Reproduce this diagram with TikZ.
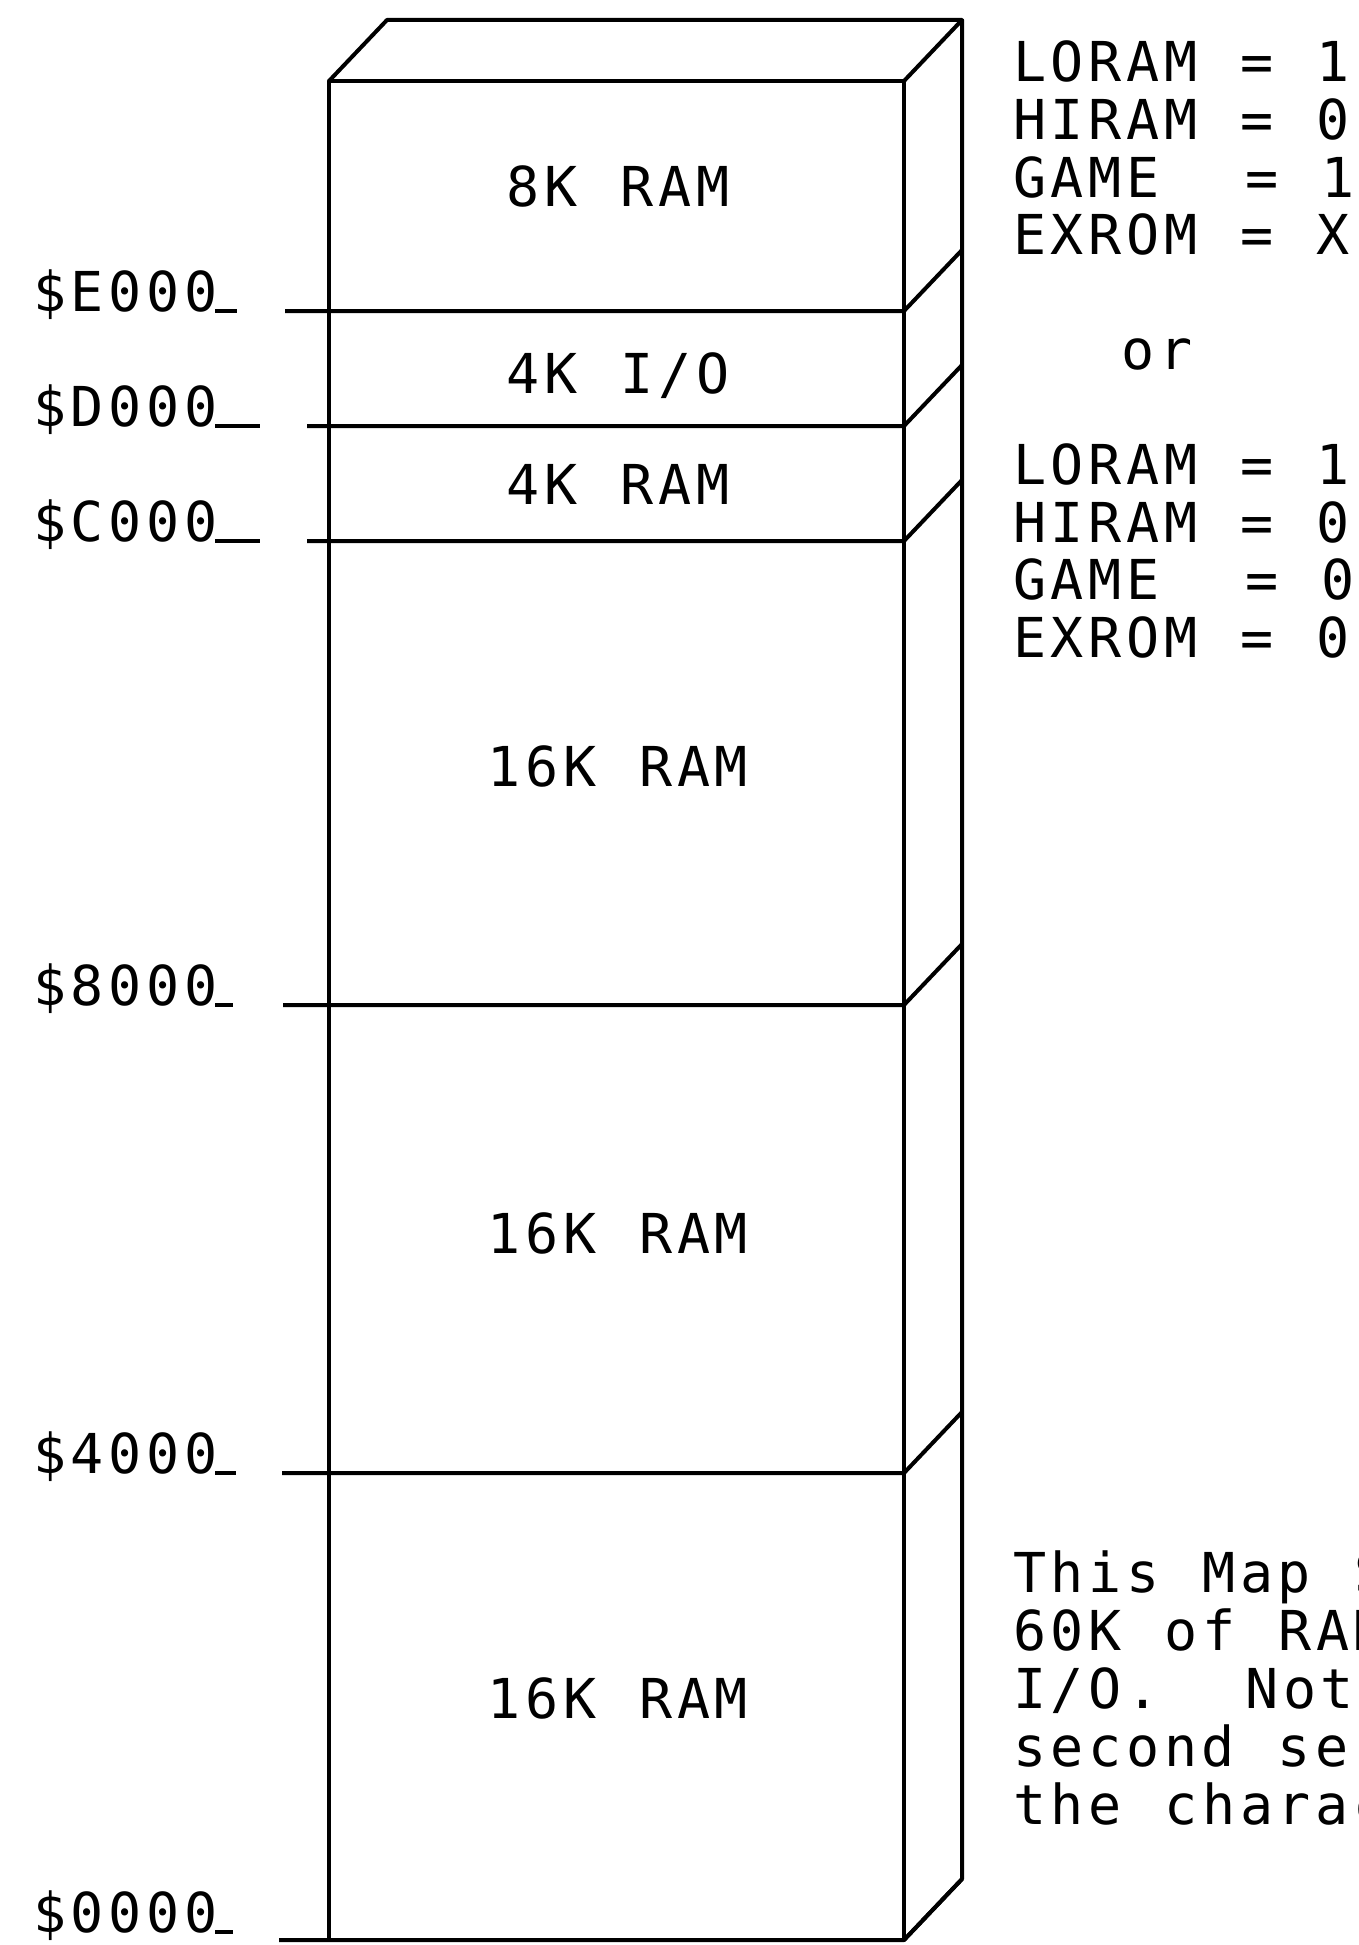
\documentclass[tikz,border=0pt]{standalone}
\usepackage{fontspec}
\newfontfamily\plotfont[LetterSpace=8.4,WordSpace=1.14]{DejaVu Sans Mono}
\usetikzlibrary{calc}

\begin{document}
\begin{tikzpicture}[x=1pt,y=-1pt,
  wire/.style={line width=4pt,line join=round},
  txt/.style={inner sep=0pt,font=\plotfont\fontsize{55}{58}\selectfont}]

\clip (0,0) rectangle (1359,1945);

% Parameters
\def\L{329}
\def\R{904}
\def\dx{58}
\def\dy{61}

% Corners of the front face
\coordinate (FTL) at (\L,81);
\coordinate (FTR) at (\R,81);
\coordinate (FBR) at (\R,1940);

% Front face
\draw[wire] (FTL) rectangle (FBR);

% Top face and right side
\draw[wire] (FTL) -- ++(\dx,-\dy) -- ($(FTR)+(\dx,-\dy)$) -- (FTR);
\draw[wire] ($(FTR)+(\dx,-\dy)$) -- ($(FBR)+(\dx,-\dy)$) -- (FBR);

% Boundaries with address labels
\foreach \y/\ty/\addr/\ul/\tk in {311/311/E000/237/285, 426/426/D000/260/307,
                                  541/541/C000/260/307, 1005/1005/8000/233/283,
                                  1473/1473/4000/236/282, 1940/1932/0000/233/279} {
  \node[txt,anchor=base west] (a\addr) at (33,\ty) {\$\addr};
  \draw[wire] (215,\ty) -- (\ul,\ty);
  \draw[wire] (\tk,\y) -- (\R,\y) -- ++(\dx,-\dy);
}

% Region labels
\foreach \y/\name/\t in {207/r8/8K RAM, 393/io/{4K I/O}, 504/r4/4K RAM,
                         786/ra/16K RAM, 1253/rb/16K RAM, 1718/rc/16K RAM}
  \node[txt,anchor=base] (\name) at (618,\y) {\t};

% Switch settings
\foreach \i/\t in {0/LORAM = 1, 1/HIRAM = 0, 2/GAME\ \ = 1, 3/EXROM = X,
                   5/\hphantom{000}or,
                   7/LORAM = 1, 8/HIRAM = 0, 9/GAME\ \ = 0, 10/EXROM = 0}
  \node[txt,anchor=base west] (s\i) at (1013,82+57.5*\i) {\t};

% Note (runs off the right edge)
\foreach \i/\t in {0/This Map S, 1/60K of RAM, 2/{I/O.\ \ Note}, 3/second se, 4/the charac}
  \node[txt,anchor=base west] (n\i) at (1013,1592+58*\i) {\t};

\end{tikzpicture}
\end{document}
